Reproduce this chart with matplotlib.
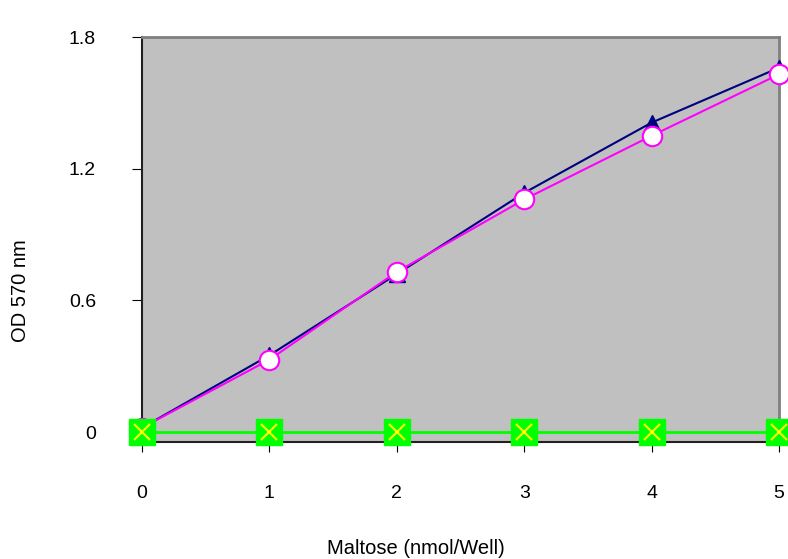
import numpy as np
import matplotlib.pyplot as plt

plt.rcParams['font.family'] = ['Liberation Sans', 'DejaVu Sans']

# data
maltose = [0, 1, 2, 3, 4, 5]
od_tri = [0.02, 0.35, 0.72, 1.09, 1.41, 1.66]
od_circ = [0.02, 0.33, 0.73, 1.06, 1.35, 1.63]
od_blank = [0, 0, 0, 0, 0, 0]
yticks = [0, 0.6, 1.2, 1.8]
ytick_labels = ['0', '0.6', '1.2', '1.8']

fig = plt.figure(figsize=(7.88, 5.59), dpi=100)
ax = fig.add_axes([0.1802, 0.2093, 0.8084, 0.7245])
ax.set_facecolor('#c0c0c0')

ax.plot(maltose, od_tri, color='#000080', lw=1.5, marker='^', ms=11,
        mfc='#000080', mec='#000080', clip_on=False, zorder=3)
ax.plot(maltose, od_circ, color='#ff00ff', lw=1.5, marker='o', ms=14,
        mfc='white', mec='#ff00ff', mew=1.5, clip_on=False, zorder=4)
ax.plot(maltose, od_blank, color='#00ff00', lw=2, marker='s', ms=19,
        mfc='#00ff00', mec='#00ff00', clip_on=False, zorder=5)
ax.plot(maltose, od_blank, ls='none', marker='x', ms=11, mew=1.5,
        color='#ffff00', clip_on=False, zorder=6)

ax.set_xlim(0, 5)
ax.set_ylim(-0.045, 1.8)
ax.set_xticks(maltose)
ax.set_yticks(yticks)
ax.set_yticklabels(ytick_labels)
ax.tick_params(axis='x', direction='out', length=7.2, pad=24, labelsize=14)
ax.tick_params(axis='y', direction='out', length=7.2, pad=26, labelsize=14)

for s in ['top', 'right']:
    ax.spines[s].set_color('#808080')
    ax.spines[s].set_linewidth(2)
for s in ['left', 'bottom']:
    ax.spines[s].set_color('#202020')
    ax.spines[s].set_linewidth(1.5)

fig.text(416 / 788, 1 - 554 / 559, 'Maltose (nmol/Well)', fontsize=14.5,
         ha='center', va='baseline')
fig.text(21 / 788, 1 - 291 / 559, 'OD 570 nm', fontsize=14.5,
         rotation=90, ha='center', va='center')

fig.savefig('out.png', dpi=100)
